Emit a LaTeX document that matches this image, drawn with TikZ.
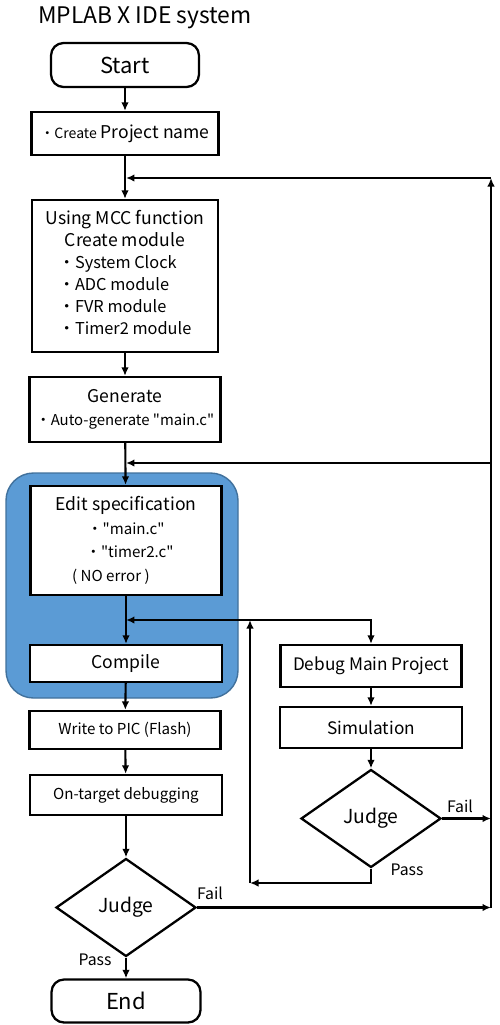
\documentclass[tikz,border=0pt]{standalone}
\usepackage{fontspec}
\setmainfont{Noto Sans CJK JP}
\usetikzlibrary{arrows.meta,shapes.geometric}
\definecolor{panelblue}{HTML}{5B9BD5}
\definecolor{paneledge}{HTML}{41719C}
\newcommand{\fsz}[1]{\fontsize{#1}{12.5pt}\selectfont}
\newcommand{\dq}{\textquotedbl}

\begin{document}
\begin{tikzpicture}[x=0.02cm, y=-0.02cm,
    >={Latex[length=1.7mm,width=1.5mm]},
    box/.style={draw, line width=1.3pt, fill=white, align=center, inner sep=0pt},
    term/.style={box, rounded corners=2.5mm},
    judge/.style={draw, diamond, line width=1.3pt, fill=white, inner sep=0pt,
        minimum width=2.8cm, minimum height=1.96cm, font=\fsz{11pt}},
    flow/.style={->, line width=1.2pt},
    lbl/.style={inner sep=0pt, font=\fsz{9pt}}]
    \useasboundingbox (0,0) rectangle (500,1025);
    % Titulo
    \node[inner sep=0pt, font=\fsz{13pt}] (title) at (145,18) {MPLAB X IDE system};
    % Fondo azul (editar + compilar)
    \draw[fill=panelblue, draw=paneledge, line width=0.8pt, rounded corners=5.5mm]
        (6,473) rectangle (238,698);
    % Columna principal
    \node[term, minimum width=2.96cm, minimum height=0.88cm, font=\fsz{12.5pt}] (start) at (125,65) {Start};
    \node[box, minimum width=3.74cm, minimum height=0.86cm] (proj) at (125,133.5)
        {{\fsz{8pt}・Create} {\fsz{10pt}Project name}};
    \node[box, minimum width=3.72cm, minimum height=3.04cm, font=\fsz{10pt}] (mcc) at (125,276)
        {Using MCC function\\Create module\\
         {\fsz{9.3pt}\begin{tabular}[t]{@{}l@{}}
            ・System Clock\\ ・ADC module\\ ・FVR module\\ ・Timer2 module
         \end{tabular}}};
    \node[box, minimum width=3.82cm, minimum height=1.3cm] (gen) at (125,409.5)
        {{\fsz{10pt}Generate}\\[1pt] {\fsz{8.5pt}・Auto-generate \dq main.c\dq}};
    \node[box, minimum width=3.82cm, minimum height=2.18cm] (edit) at (126,540.5)
        {{\fsz{10pt}Edit specification}\\[1.5pt]
         {\fsz{8.6pt}・\dq main.c\dq\hspace*{0.6em}}\\[1.5pt]
         {\fsz{8.6pt}\hspace*{0.5em}・\dq timer2.c\dq}\\[1.5pt]
         {\fsz{8.6pt}( NO error )\hspace*{2em}}};
    \node[box, minimum width=3.84cm, minimum height=0.74cm, font=\fsz{10pt}] (comp) at (126,663.5) {Compile};
    \node[box, minimum width=3.82cm, minimum height=0.76cm, font=\fsz{8.6pt}] (write) at (125,730) {Write to PIC (Flash)};
    \node[box, minimum width=3.84cm, minimum height=0.8cm, font=\fsz{8.6pt}] (tgt) at (126,795) {On-target debugging};
    \node[judge] (judgeA) at (126,907.5) {Judge};
    \node[term, minimum width=2.98cm, minimum height=0.86cm, font=\fsz{12.5pt}] (end) at (126,1001) {End};
    % Columna de simulacion
    \node[box, minimum width=3.62cm, minimum height=0.84cm, font=\fsz{9.8pt}] (debug) at (371,666) {Debug Main Project};
    \node[box, minimum width=3.64cm, minimum height=0.82cm, font=\fsz{9.8pt}] (sim) at (371,727.5) {Simulation};
    \node[judge] (judgeB) at (371,818.5) {Judge};
    % Puntos de union
    \coordinate (j1) at (126,178);
    \coordinate (j2) at (126,463);
    \coordinate (j3) at (126,620);
    \coordinate (rt) at (491,178);
    \coordinate (rm) at (491,463);
    \coordinate (rb) at (491,907.5);
    \coordinate (loopA) at (250,883);
    \coordinate (loopB) at (250,620);
    % Flechas principales
    \draw[flow] (start) -- (proj);
    \draw[flow] (proj) -- (mcc);
    \draw[flow] (mcc) -- (gen);
    \draw[flow] (gen) -- (edit);
    \draw[flow] (edit) -- (comp);
    \draw[flow] (comp) -- (write);
    \draw[flow] (write) -- (tgt);
    \draw[flow] (tgt) -- (judgeA);
    \draw[flow] (judgeA) -- (end);
    % Rama de simulacion
    \draw[flow] (loopB) -- (j3);
    \draw[flow] (loopB) -| (debug.north);
    \draw[flow] (debug) -- (sim);
    \draw[flow] (sim) -- (judgeB);
    \draw[flow] (judgeB.south) |- (loopA);
    \draw[flow] (loopA) -- (loopB);
    % Retornos por la derecha
    \draw[flow] (judgeB.east) -- (judgeB.east -| rb);
    \draw[flow] (judgeA.east) -- (rb);
    \draw[flow] (rb) -- (rt);
    \draw[flow] (rt) -- (j1);
    \draw[flow] (rm) -- (j2);
    % Etiquetas
    \node[lbl] (failA) at (210,893) {Fail};
    \node[lbl] (passA) at (95,960) {Pass};
    \node[lbl] (failB) at (460,806) {Fail};
    \node[lbl] (passB) at (407,870) {Pass};
\end{tikzpicture}
\end{document}
